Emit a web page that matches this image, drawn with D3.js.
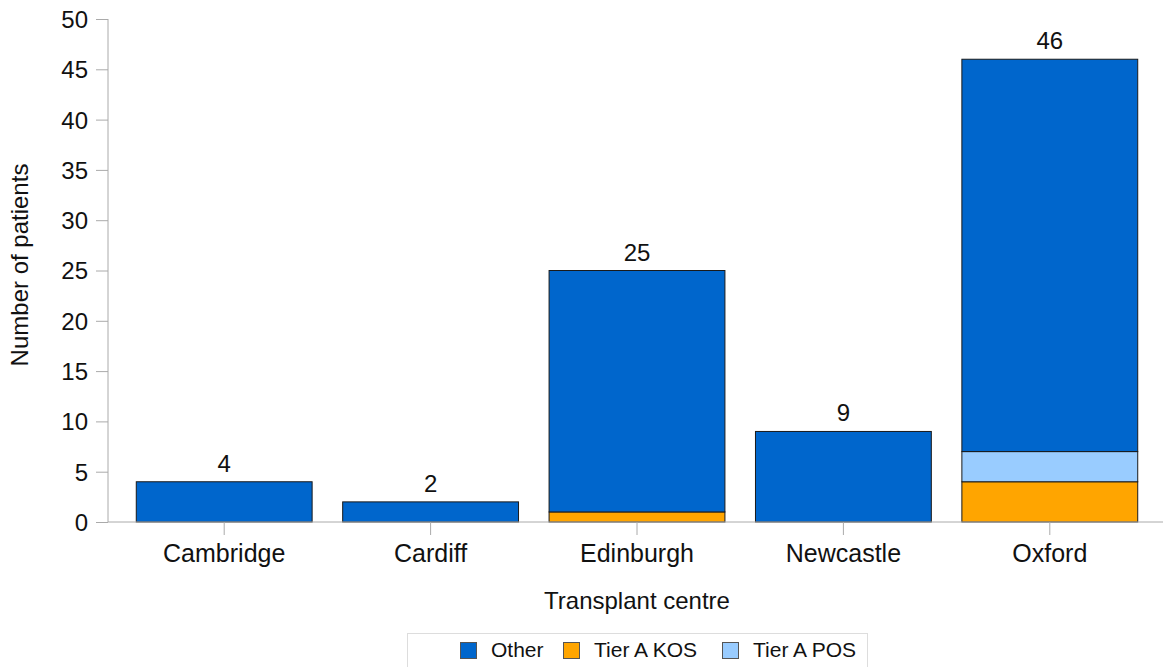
<!DOCTYPE html>
<html><head><meta charset="utf-8">
<script src="https://cdn.jsdelivr.net/npm/d3@7"></script>
<style>body{margin:0;background:#fff;} text{font-family:"Liberation Sans",Arial,sans-serif;fill:#111;}</style>
</head><body><svg id="c" width="1163" height="667"></svg>
<script>
const categories = ["Cambridge","Cardiff","Edinburgh","Newcastle","Oxford"];
const seriesNames = ["Tier A KOS","Tier A POS","Other"];
const tierAKOS = [0,0,1,0,4];
const tierAPOS = [0,0,0,0,3];
const other = [4,2,24,9,39];
const yTicks = [0,5,10,15,20,25,30,35,40,45,50];
const legendOrder = ["Other","Tier A KOS","Tier A POS"];
const colors = {"Other":"#0066CC","Tier A KOS":"#FFA500","Tier A POS":"#99CCFF"};

const svg = d3.select("#c");
const rows = categories.map((c,i)=>({cat:c,"Tier A KOS":tierAKOS[i],"Tier A POS":tierAPOS[i],"Other":other[i]}));
const stack = d3.stack().keys(seriesNames)(rows);
const totals = rows.map(r=>seriesNames.reduce((s,k)=>s+r[k],0));

const x = d3.scaleBand().domain(categories).range([121,1153]).paddingInner(0.148).paddingOuter(0.074);
const y = d3.scaleLinear().domain([0,50]).range([522,19]);

// y axis
const ya = svg.append("g").attr("transform","translate(108,0)")
  .call(d3.axisLeft(y).tickValues(yTicks).tickSize(12).tickPadding(8));
ya.select(".domain").attr("stroke","#aaa").attr("d","M0,"+y(50)+"V"+y(0));
ya.selectAll(".tick line").attr("stroke","#aaa");
ya.selectAll(".tick text").style("font-size","24px").attr("dy","0.35em").attr("fill","#111");

// bars
svg.append("g").selectAll("g").data(stack).join("g")
  .attr("fill",d=>colors[d.key])
  .selectAll("rect").data(d=>d.filter(s=>s[1]-s[0]>0)).join("rect")
  .attr("x",d=>x(d.data.cat)).attr("width",x.bandwidth())
  .attr("y",d=>y(d[1])).attr("height",d=>y(d[0])-y(d[1]))
  .attr("stroke","#1a1a1a").attr("stroke-width",1);

// x axis
const xa = svg.append("g").attr("transform","translate(0,522)")
  .call(d3.axisBottom(x).tickSize(13).tickPadding(10));
xa.select(".domain").attr("stroke","#aaa").attr("d","M108,0H1163");
xa.selectAll(".tick line").attr("stroke","#aaa");
xa.selectAll(".tick text").style("font-size","25px").attr("fill","#111").attr("dy","0.66em");

// value labels
svg.append("g").selectAll("text").data(categories).join("text")
  .attr("x",d=>x(d)+x.bandwidth()/2).attr("y",(d,i)=>y(totals[i])-10)
  .attr("text-anchor","middle").style("font-size","24px").text((d,i)=>totals[i]);

// titles
svg.append("text").attr("x",637).attr("y",609).attr("text-anchor","middle").style("font-size","24px").text("Transplant centre");
svg.append("text").attr("transform","translate(28,265) rotate(-90)").attr("text-anchor","middle").style("font-size","24px").text("Number of patients");

// legend
svg.append("rect").attr("x",407.5).attr("y",633.5).attr("width",460).attr("height",40).attr("fill","#fff").attr("stroke","#ddd");
const lx = [460,563,722];
const lg = svg.append("g").selectAll("g").data(legendOrder).join("g").attr("transform",(d,i)=>`translate(${lx[i]},0)`);
lg.append("rect").attr("x",0.5).attr("y",642.5).attr("width",16).attr("height",16).attr("fill",d=>colors[d]).attr("stroke","#555");
lg.append("text").attr("x",31).attr("y",657).style("font-size","21px").text(d=>d);
</script></body></html>
